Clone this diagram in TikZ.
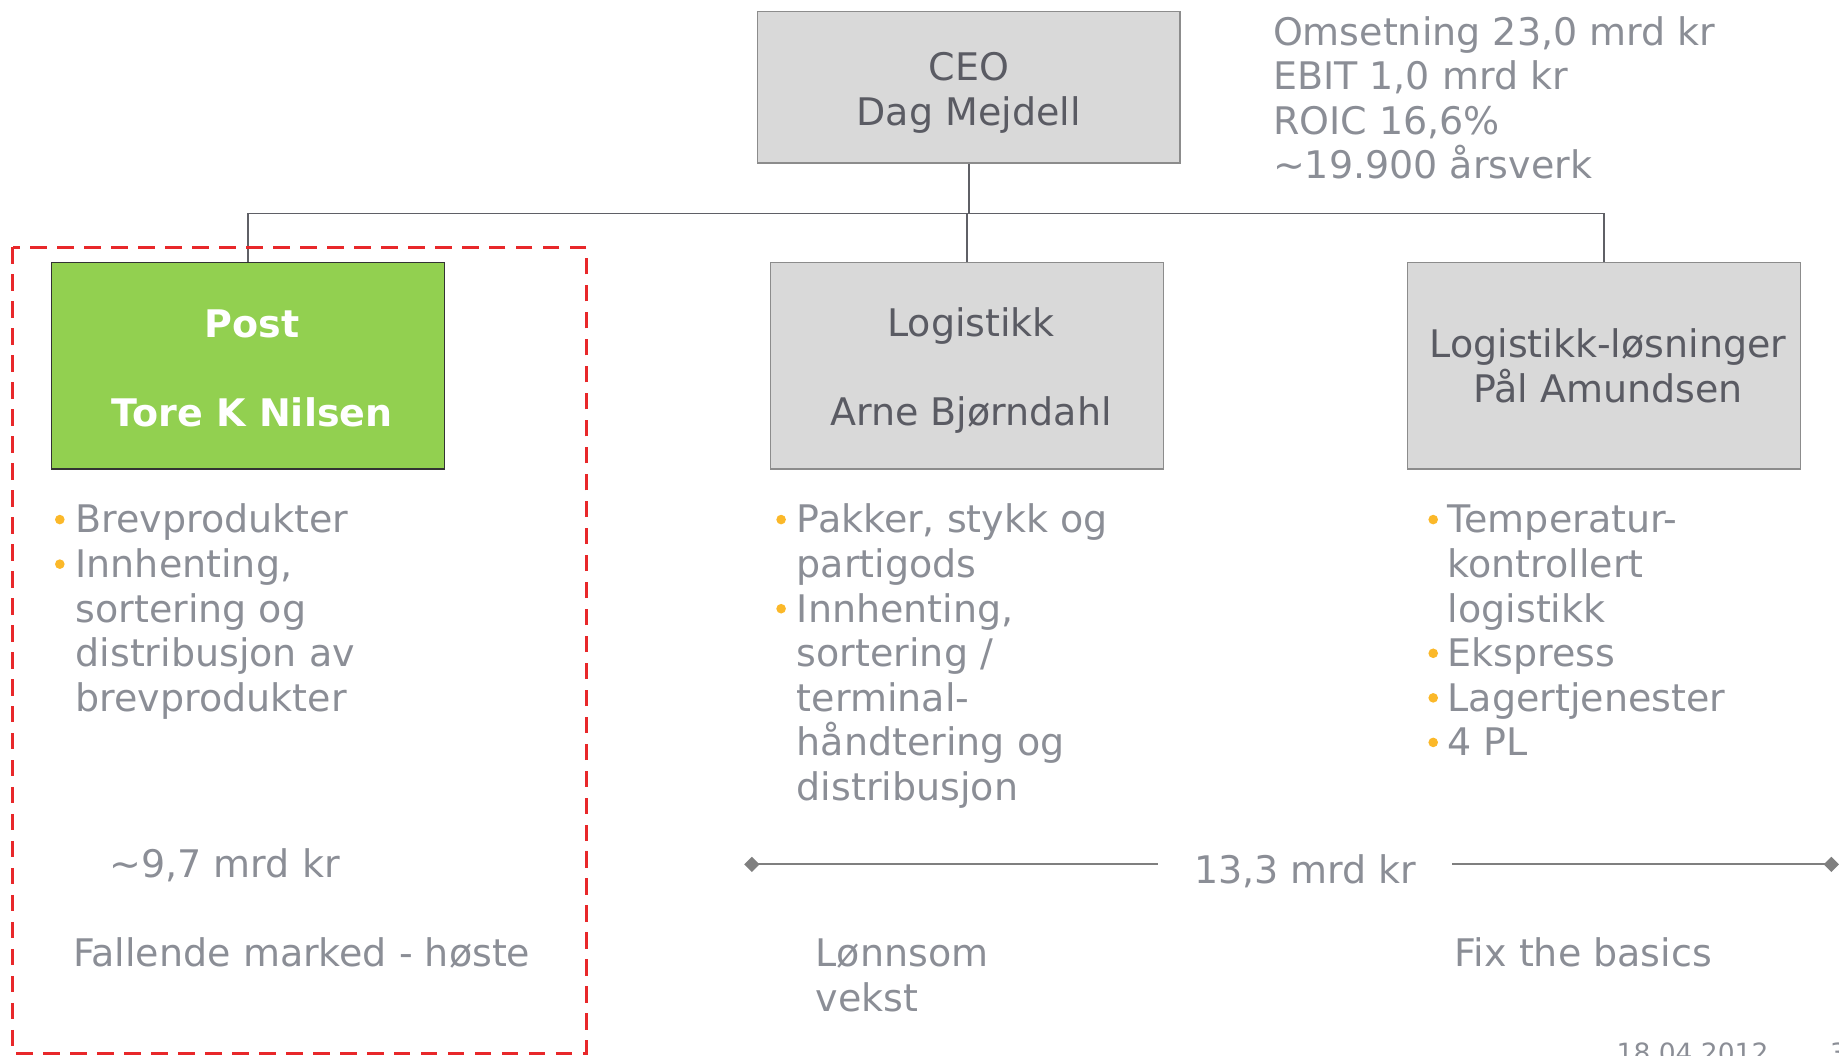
\documentclass[tikz,border=0pt]{standalone}
\usepackage{fontspec}
\setmainfont{DejaVu Sans}
\usetikzlibrary{arrows.meta}
\definecolor{txtgray}{HTML}{8B8E96}
\definecolor{boxtxt}{HTML}{5A5B63}
\definecolor{boxfill}{HTML}{D9D9D9}
\definecolor{boxline}{HTML}{8C8C8C}
\definecolor{postgreen}{HTML}{92D050}
\definecolor{bulletc}{HTML}{FBB829}
\definecolor{redd}{HTML}{E8282A}
\definecolor{connc}{HTML}{5F6066}
\definecolor{diamc}{HTML}{7F7F7F}
\newcommand{\bodyfont}{\fontsize{16.2}{19}\selectfont}
\newcommand{\nudge}{\hspace*{3.5pt}}
\begin{document}
\begin{tikzpicture}[x=0.5pt,y=-0.5pt,
  orgbox/.style={draw=boxline, fill=boxfill, line width=0.6pt, minimum width=167.5pt, minimum height=88pt, inner sep=0pt, align=center, text=boxtxt, font=\bodyfont},
  txt/.style={anchor=north west, inner sep=0pt, align=left, text=txtgray, font=\bodyfont},
  conn/.style={draw=connc, line width=0.7pt},
  dline/.style={draw=diamc, line width=0.9pt},
  bul/.style={fill=bulletc}
]
\useasboundingbox (0,0) rectangle (1568,900);
\clip (0,0) rectangle (1568,900);

% boxes
\node[orgbox, minimum width=180pt, minimum height=64.5pt] (ceo) at (826,74.5) {\rule{0pt}{16.8pt}CEO\\Dag Mejdell};
\node[orgbox, draw=black!80, fill=postgreen, text=white, font=\bodyfont\bfseries] (post) at (211.5,312) {\nudge\rule{0pt}{14pt}Post\\[19pt]\nudge Tore K Nilsen};
\node[orgbox] (log) at (824.5,312) {\nudge\rule{0pt}{16.3pt}Logistikk\\[19pt]\nudge Arne Bjørndahl};
\node[orgbox] (ll) at (1367.5,312) {\nudge Logistikk-løsninger\\\nudge Pål Amundsen};

% connectors
\coordinate (bus) at (826,182);
\draw[conn] (ceo.south) -- (bus);
\draw[conn] (post.north) |- (bus) -| (ll.north);
\draw[conn] (log.north) -- (log.north |- bus);

% red dashed frame
\draw[redd, line width=1.3pt, dash pattern=on 7pt off 4.5pt] (11,211) rectangle (500,898);

% stats
\node[txt] (stats) at (1085,11.4) {\strut Omsetning 23,0 mrd kr\\EBIT 1,0 mrd kr\\ROIC 16,6\%\\\textasciitilde19.900 årsverk};

% bullet lists
\node[txt] (postlist) at (64,427.4) {\strut Brevprodukter\\Innhenting,\\sortering og\\distribusjon av\\brevprodukter};
\fill[bul] (51,443) circle (4.1);
\fill[bul] (51,481) circle (4.1);

\node[txt] (loglist) at (679,427.4) {\strut Pakker, stykk og\\partigods\\Innhenting,\\sortering /\\terminal-\\håndtering og\\distribusjon};
\fill[bul] (666,443) circle (4.1);
\fill[bul] (666,519) circle (4.1);

\node[txt] (lllist) at (1234,427.4) {\strut Temperatur-\\kontrollert\\logistikk\\Ekspress\\Lagertjenester\\4 PL};
\fill[bul] (1222,443) circle (4.1);
\fill[bul] (1222,557) circle (4.1);
\fill[bul] (1222,595) circle (4.1);
\fill[bul] (1222,633) circle (4.1);

% values
\node[txt] (val) at (93,721) {\strut\textasciitilde9,7 mrd kr};
\node[font=\bodyfont, text=txtgray, inner xsep=15pt, inner ysep=0pt, anchor=base] (tot) at (1113,753) {13,3 mrd kr};
\coordinate (dl) at (634.5,737);
\coordinate (dr) at (1568,737);
\draw[dline, {Diamond[length=6.5pt,width=6.5pt]}-] (dl) -- (dl -| tot.west);
\draw[dline, -{Diamond[length=6.5pt,width=6.5pt]}] (tot.east |- dr) -- (dr);

% strategies
\node[txt] (fall) at (62,797.4) {\strut Fallende marked - høste};
\node[txt] (lonn) at (695,797.4) {\strut Lønnsom\\vekst};
\node[txt] (fix) at (1240,797.4) {\strut Fix the basics};

% footer
\node[font=\fontsize{11.3}{13}\selectfont, text=txtgray, anchor=base west, inner sep=0pt] (date) at (1378,906) {18.04.2012};
\node[font=\fontsize{11.3}{13}\selectfont, text=txtgray, anchor=base west, inner sep=0pt] (pg) at (1560,906) {3};
\end{tikzpicture}
\end{document}
